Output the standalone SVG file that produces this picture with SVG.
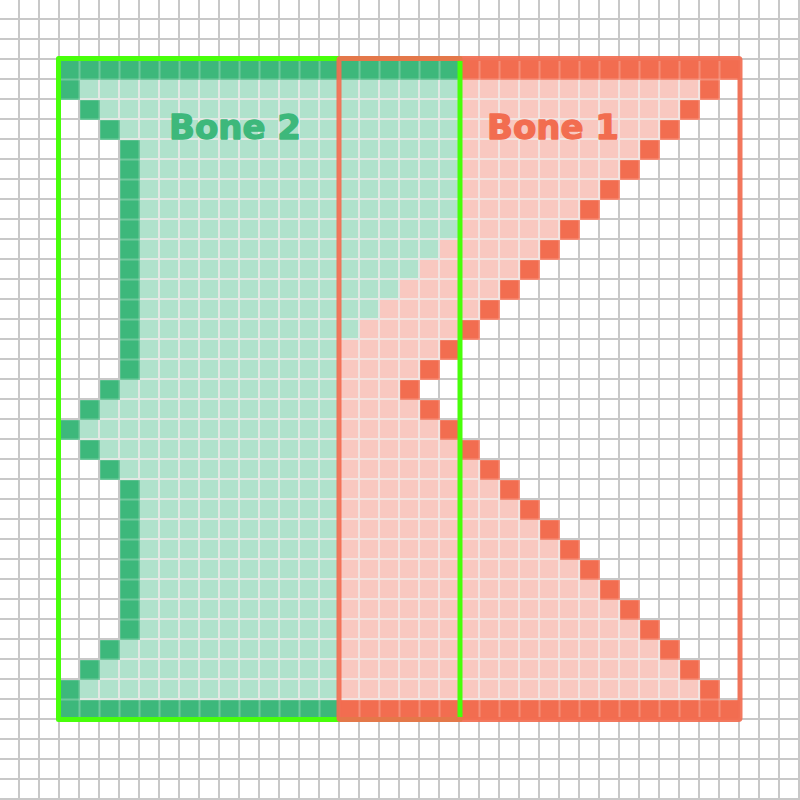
<svg xmlns="http://www.w3.org/2000/svg" width="800" height="800" viewBox="0 0 800 800">
<style>
.lbl{font-family:"DejaVu Sans","Liberation Sans",sans-serif;font-weight:bold;font-size:34px;text-anchor:middle;stroke-width:1.3;stroke-linejoin:round}
.frame{fill:none;stroke-width:5;stroke-linejoin:round}
</style>
<defs>
<pattern id="bg" patternUnits="userSpaceOnUse" x="-1" y="-1" width="20" height="20">
<rect width="20" height="20" fill="#c8c8c8"/><rect x="1" y="1" width="18" height="18" fill="#ffffff"/>
</pattern>
<pattern id="lg" patternUnits="userSpaceOnUse" x="-1" y="-1" width="20" height="20">
<rect width="20" height="20" fill="#e2e8e4"/><rect x="1" y="1" width="18" height="18" fill="#b0e2cc"/>
</pattern>
<pattern id="dg" patternUnits="userSpaceOnUse" x="-0.5" y="-0.5" width="20" height="20">
<rect width="20" height="20" fill="#a4d8be"/><rect x="0.5" y="0.5" width="19" height="19" fill="#3db87b"/>
</pattern>
<pattern id="lr" patternUnits="userSpaceOnUse" x="-1" y="-1" width="20" height="20">
<rect width="20" height="20" fill="#f2e4e1"/><rect x="1" y="1" width="18" height="18" fill="#f9c8c0"/>
</pattern>
<pattern id="dr" patternUnits="userSpaceOnUse" x="-0.5" y="-0.5" width="20" height="20">
<rect width="20" height="20" fill="#f6b0a2"/><rect x="0.5" y="0.5" width="19" height="19" fill="#f26d50"/>
</pattern>
</defs>
<rect id="grid" width="800" height="800" fill="url(#bg)"/>
<g id="bone2">
<path id="bone2-fill" fill="url(#lg)" d="M460,80 L460,240 L440,240 L440,260 L420,260 L420,280 L400,280 L400,300 L380,300 L380,320 L360,320 L360,340 L340,340 L340,700 L80,700 L80,680 L100,680 L100,660 L120,660 L120,640 L140,640 L140,480 L120,480 L120,460 L100,460 L100,440 L80,440 L80,420 L100,420 L100,400 L120,400 L120,380 L140,380 L140,140 L120,140 L120,120 L100,120 L100,100 L80,100 L80,80 Z"/>
<path id="bone2-edge" fill="url(#dg)" d="M60,60h400v20h-400z M60,700h280v20h-280z M60,80h20v20h-20z M80,100h20v20h-20z M100,120h20v20h-20z M120,140h20v240h-20z M100,380h20v20h-20z M80,400h20v20h-20z M60,420h20v20h-20z M80,440h20v20h-20z M100,460h20v20h-20z M120,480h20v160h-20z M100,640h20v20h-20z M80,660h20v20h-20z M60,680h20v20h-20z"/>
<text class="lbl" x="235" y="139" fill="#3db87b" stroke="#3db87b">Bone 2</text>
</g>
<g id="bone1">
<path id="bone1-fill" fill="url(#lr)" d="M460,80 L700,80 L700,100 L680,100 L680,120 L660,120 L660,140 L640,140 L640,160 L620,160 L620,180 L600,180 L600,200 L580,200 L580,220 L560,220 L560,240 L540,240 L540,260 L520,260 L520,280 L500,280 L500,300 L480,300 L480,320 L460,320 L460,340 L440,340 L440,360 L420,360 L420,380 L400,380 L400,400 L420,400 L420,420 L440,420 L440,440 L460,440 L460,460 L480,460 L480,480 L500,480 L500,500 L520,500 L520,520 L540,520 L540,540 L560,540 L560,560 L580,560 L580,580 L600,580 L600,600 L620,600 L620,620 L640,620 L640,640 L660,640 L660,660 L680,660 L680,680 L700,680 L700,700 L340,700 L340,340 L360,340 L360,320 L380,320 L380,300 L400,300 L400,280 L420,280 L420,260 L440,260 L440,240 L460,240 Z"/>
<path id="bone1-edge" fill="url(#dr)" d="M460,60h280v20h-280z M340,700h400v20h-400z M700,80h20v20h-20z M680,100h20v20h-20z M660,120h20v20h-20z M640,140h20v20h-20z M620,160h20v20h-20z M600,180h20v20h-20z M580,200h20v20h-20z M560,220h20v20h-20z M540,240h20v20h-20z M520,260h20v20h-20z M500,280h20v20h-20z M480,300h20v20h-20z M460,320h20v20h-20z M440,340h20v20h-20z M420,360h20v20h-20z M400,380h20v20h-20z M420,400h20v20h-20z M440,420h20v20h-20z M460,440h20v20h-20z M480,460h20v20h-20z M500,480h20v20h-20z M520,500h20v20h-20z M540,520h20v20h-20z M560,540h20v20h-20z M580,560h20v20h-20z M600,580h20v20h-20z M620,600h20v20h-20z M640,620h20v20h-20z M660,640h20v20h-20z M680,660h20v20h-20z M700,680h20v20h-20z"/>
<text class="lbl" x="553" y="139" fill="#f26d50" stroke="#f26d50">Bone 1</text>
</g>
<g id="frames">
<rect id="bone2-frame" class="frame" x="58.5" y="58.5" width="401.5" height="661" stroke="#48ff0a"/>
<rect id="bone1-frame" class="frame" x="339" y="58.5" width="401" height="661" rx="1.5" stroke="#f26d50" stroke-opacity="0.92"/>
</g>
</svg>
